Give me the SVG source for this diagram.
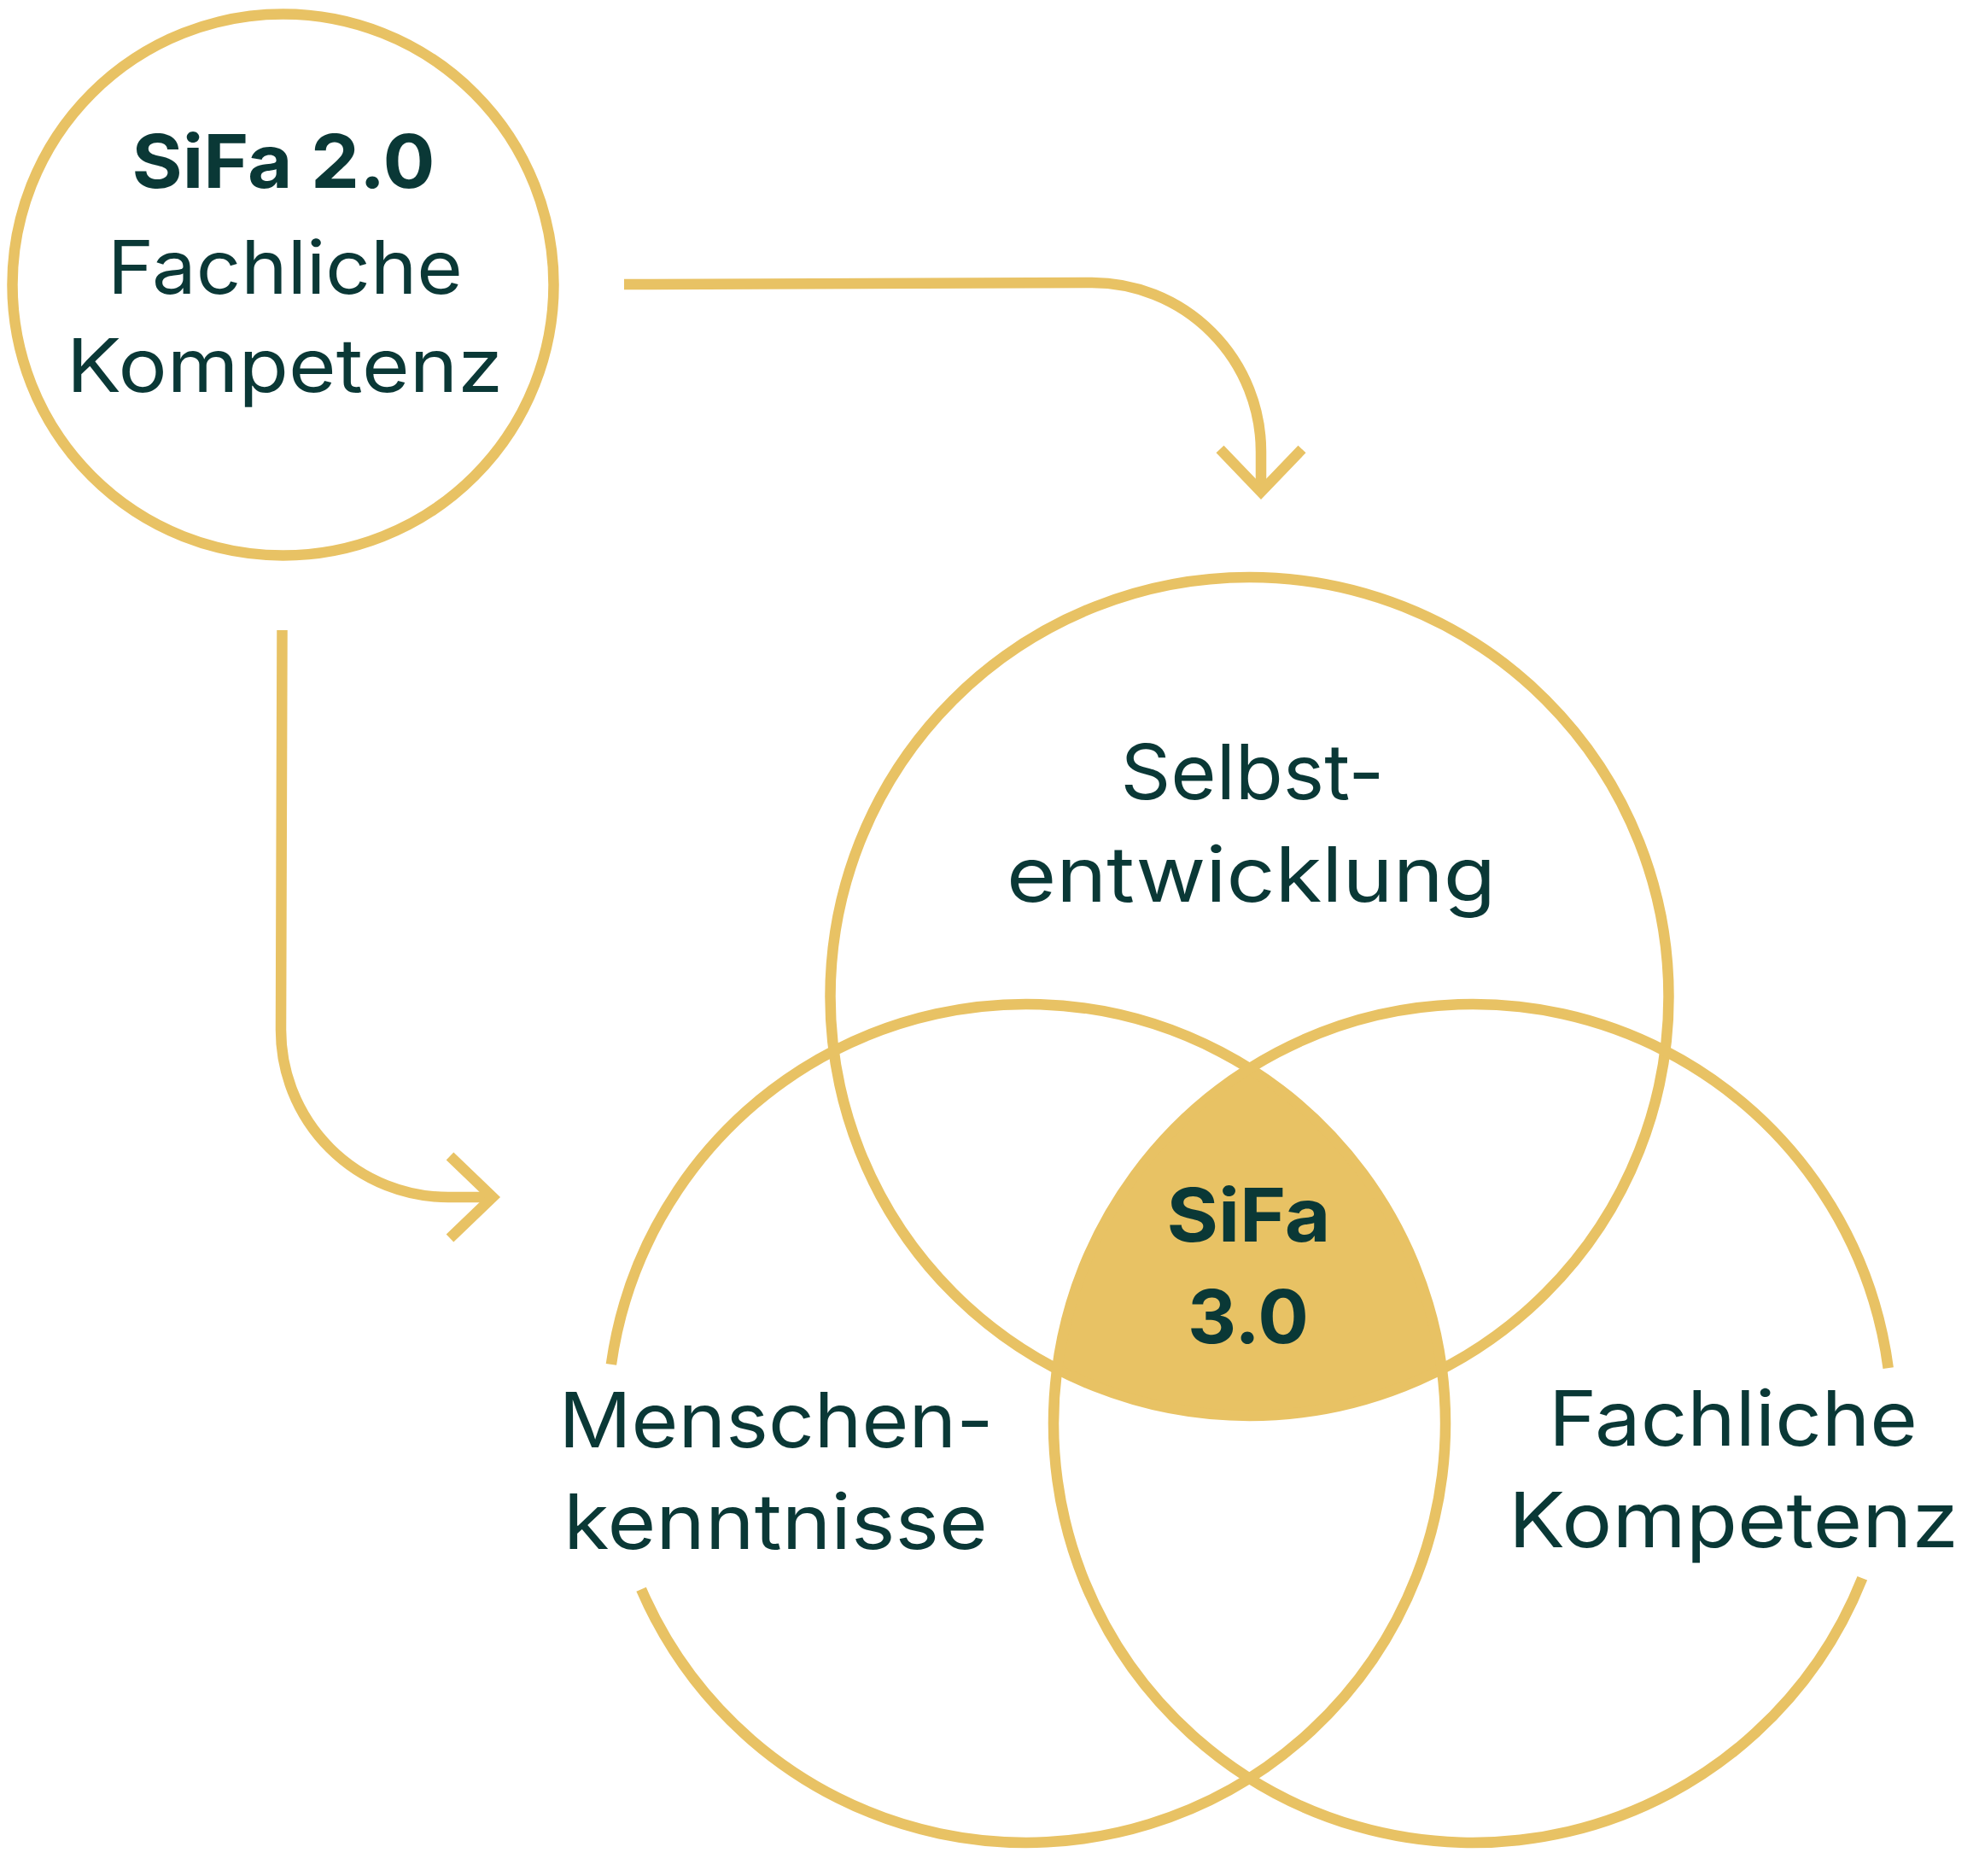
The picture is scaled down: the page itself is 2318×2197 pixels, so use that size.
<svg xmlns="http://www.w3.org/2000/svg" width="2318" height="2197" viewBox="0 0 2318 2197">
  <style>
    .ring { fill: none; stroke: #E8C264; stroke-width: 12.5; stroke-linecap: butt; }
    .conn { fill: none; stroke: #E8C264; stroke-width: 12.5; stroke-linecap: butt; stroke-linejoin: round; }
    .lbl { font-family: Inter, "DejaVu Sans", sans-serif; font-size: 89px; fill: #0A3836; text-anchor: middle; }
    .lbl-s { font-family: Inter, "DejaVu Sans", sans-serif; font-size: 87px; fill: #0A3836; text-anchor: middle; }
    .bold { font-family: Inter, "DejaVu Sans", sans-serif; font-size: 87px; font-weight: 700; fill: #0A3836; text-anchor: middle; }
  </style>
  <defs>
    <marker id="chev" markerUnits="userSpaceOnUse" markerWidth="140" markerHeight="140" viewBox="-70 -70 140 140" refX="0" refY="0" orient="auto" overflow="visible">
      <path d="M -50 -48 L 0 0 L -50 48" fill="none" stroke="#E8C264" stroke-width="12.5" stroke-linejoin="miter" stroke-miterlimit="10"/>
    </marker>
  </defs>
  <rect width="2318" height="2197" fill="#FFFFFF"/>

  <g id="node-sifa30">
    <path d="M 1463.5 1251.6 A 491 491 0 0 1 1688.8 1603.2 A 491 491 0 0 1 1238.2 1603.2 A 491 491 0 0 1 1463.5 1251.6 Z" fill="#E8C264"/>
    <text class="bold" x="1462.5" y="1454" textLength="192" lengthAdjust="spacingAndGlyphs">SiFa</text>
    <text class="bold" x="1462" y="1573" textLength="142" lengthAdjust="spacingAndGlyphs">3.0</text>
  </g>

  <g id="node-sifa20">
    <circle class="ring" cx="331.5" cy="333.5" r="317"/>
    <text class="bold" x="332" y="220" textLength="355" lengthAdjust="spacingAndGlyphs">SiFa 2.0</text>
    <text class="lbl-s" x="334" y="344" textLength="416" lengthAdjust="spacingAndGlyphs">Fachliche</text>
    <text class="lbl-s" x="333.5" y="459" textLength="511" lengthAdjust="spacingAndGlyphs">Kompetenz</text>
  </g>

  <g id="node-selbstentwicklung">
    <circle class="ring" cx="1463.5" cy="1167" r="491"/>
    <text class="lbl" x="1467" y="936" textLength="309" lengthAdjust="spacingAndGlyphs">Selbst-</text>
    <text class="lbl" x="1465.5" y="1056" textLength="573" lengthAdjust="spacingAndGlyphs">entwicklung</text>
  </g>

  <g id="node-menschenkenntnisse">
    <path class="ring" d="M 715.9 1597.8 A 491 491 0 1 1 751.1 1861.2"/>
    <text class="lbl" x="909" y="1695" textLength="509" lengthAdjust="spacingAndGlyphs">Menschen-</text>
    <text class="lbl" x="908.5" y="1814" textLength="497" lengthAdjust="spacingAndGlyphs">kenntnisse</text>
  </g>

  <g id="node-fachliche-kompetenz">
    <path class="ring" d="M 2181.3 1848.3 A 491 491 0 1 1 2211.7 1602.1"/>
    <text class="lbl" x="2030" y="1693" textLength="432" lengthAdjust="spacingAndGlyphs">Fachliche</text>
    <text class="lbl" x="2030.5" y="1812" textLength="527" lengthAdjust="spacingAndGlyphs">Kompetenz</text>
  </g>

  <g id="connectors">
    <path class="conn" d="M 731 333 L 1279 331 A 198 198 0 0 1 1477 529 L 1477 576" marker-end="url(#chev)"/>
    <path class="conn" d="M 330.5 738 L 329 1206 A 196 196 0 0 0 525 1402 L 577 1402" marker-end="url(#chev)"/>
  </g>
</svg>
